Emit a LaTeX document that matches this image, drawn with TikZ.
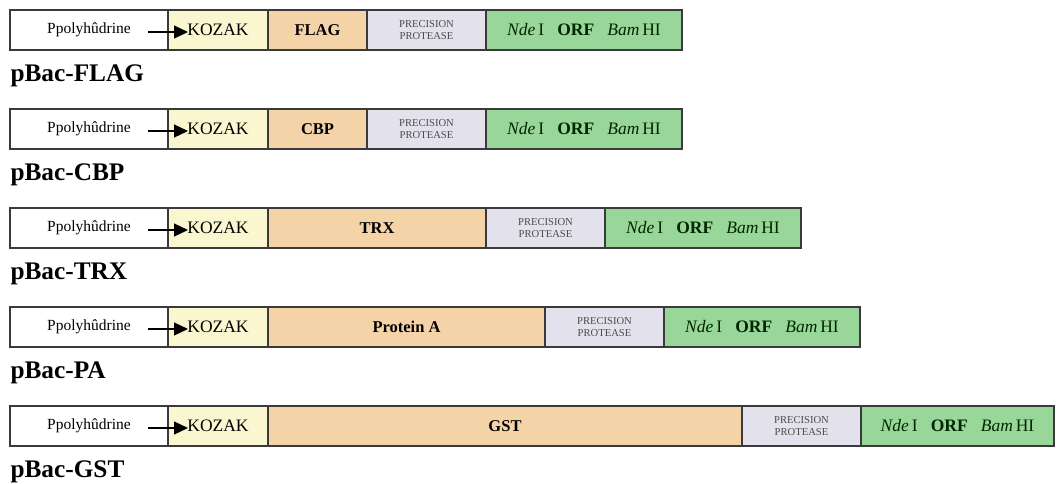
\documentclass[tikz,border=0pt]{standalone}
\usepackage{fontspec}
\setmainfont{Liberation Serif}
\usetikzlibrary{arrows.meta,positioning}
\definecolor{edge}{HTML}{3A3A3A}
\definecolor{kozakfill}{HTML}{F9F6D0}
\definecolor{tagfill}{HTML}{F5D3A9}
\definecolor{protfill}{HTML}{E3E2EC}
\definecolor{orffill}{HTML}{99D699}
\tikzset{
  seg/.style={
    draw=edge,
    line width=1.1pt,
    minimum height=40pt,
    inner sep=0pt,
    outer sep=0pt,
    anchor=west,
    align=center
  },
  prom/.style={
    seg,
    fill=white,
    minimum width=158pt,
    font=\fontsize{15.5}{17}\selectfont
  },
  kozak/.style={
    seg,
    fill=kozakfill,
    minimum width=100pt,
    font=\fontsize{17.5}{19}\selectfont
  },
  tag/.style={
    seg,
    fill=tagfill,
    font=\bfseries\fontsize{16.5}{18}\selectfont
  },
  prot/.style={
    seg,
    fill=protfill,
    minimum width=119pt,
    text=black!70,
    font=\fontsize{10.6}{11}\selectfont
  },
  orf/.style={
    seg,
    fill=orffill,
    minimum width=196pt,
    text=black!85!green,
    font=\fontsize{17.5}{19}\selectfont
  },
  rowlabel/.style={
    anchor=base west,
    font=\bfseries\fontsize{25.3}{28}\selectfont
  },
  startarrow/.style={
    -{Triangle[length=14pt,width=13pt]},
    draw=black,
    line width=1.2pt
  }
}
\newcommand{\orftext}{\textit{Nde}\,I\hspace{0.75em}\textbf{ORF}\hspace{0.75em}\textit{Bam}\,HI}
\newcommand{\prottext}{PRECISION\\[0.5pt]PROTEASE}
\newcommand{\promtext}{\raisebox{3pt}{Ppolyhûdrine}}

\begin{document}
\begin{tikzpicture}[x=1pt,y=1pt]
  \useasboundingbox (0,0) rectangle (1058,-483);

  % pBac-FLAG
  \node[prom] (prom1) at (10,-30) {\promtext};
  \node[kozak, right=0pt of prom1] (kozak1) {KOZAK};
  \node[tag, minimum width=99pt, right=0pt of kozak1] (tag1) {FLAG};
  \node[prot, right=0pt of tag1] (prot1) {\prottext};
  \node[orf, right=0pt of prot1] (orf1) {\orftext};
  \node[rowlabel] (label1) at (7,-81) {pBac-FLAG};

  % pBac-CBP
  \node[prom] (prom2) at (10,-129) {\promtext};
  \node[kozak, right=0pt of prom2] (kozak2) {KOZAK};
  \node[tag, minimum width=99pt, right=0pt of kozak2] (tag2) {CBP};
  \node[prot, right=0pt of tag2] (prot2) {\prottext};
  \node[orf, right=0pt of prot2] (orf2) {\orftext};
  \node[rowlabel] (label2) at (7,-180) {pBac-CBP};

  % pBac-TRX
  \node[prom] (prom3) at (10,-228) {\promtext};
  \node[kozak, right=0pt of prom3] (kozak3) {KOZAK};
  \node[tag, minimum width=218pt, right=0pt of kozak3] (tag3) {TRX};
  \node[prot, right=0pt of tag3] (prot3) {\prottext};
  \node[orf, right=0pt of prot3] (orf3) {\orftext};
  \node[rowlabel] (label3) at (7,-279) {pBac-TRX};

  % pBac-PA
  \node[prom] (prom4) at (10,-327) {\promtext};
  \node[kozak, right=0pt of prom4] (kozak4) {KOZAK};
  \node[tag, minimum width=277pt, right=0pt of kozak4] (tag4) {Protein A};
  \node[prot, right=0pt of tag4] (prot4) {\prottext};
  \node[orf, right=0pt of prot4] (orf4) {\orftext};
  \node[rowlabel] (label4) at (7,-378) {pBac-PA};

  % pBac-GST
  \node[prom] (prom5) at (10,-426) {\promtext};
  \node[kozak, right=0pt of prom5] (kozak5) {KOZAK};
  \node[tag, minimum width=474pt, right=0pt of kozak5] (tag5) {GST};
  \node[prot, right=0pt of tag5] (prot5) {\prottext};
  \node[orf, minimum width=193pt, right=0pt of prot5] (orf5) {\orftext};
  \node[rowlabel] (label5) at (7,-477) {pBac-GST};

  \draw[startarrow] ([xshift=-20pt,yshift=-2pt]prom1.east) -- ([xshift=20pt,yshift=-2pt]kozak1.west);
  \draw[startarrow] ([xshift=-20pt,yshift=-2pt]prom2.east) -- ([xshift=20pt,yshift=-2pt]kozak2.west);
  \draw[startarrow] ([xshift=-20pt,yshift=-2pt]prom3.east) -- ([xshift=20pt,yshift=-2pt]kozak3.west);
  \draw[startarrow] ([xshift=-20pt,yshift=-2pt]prom4.east) -- ([xshift=20pt,yshift=-2pt]kozak4.west);
  \draw[startarrow] ([xshift=-20pt,yshift=-2pt]prom5.east) -- ([xshift=20pt,yshift=-2pt]kozak5.west);
\end{tikzpicture}
\end{document}
